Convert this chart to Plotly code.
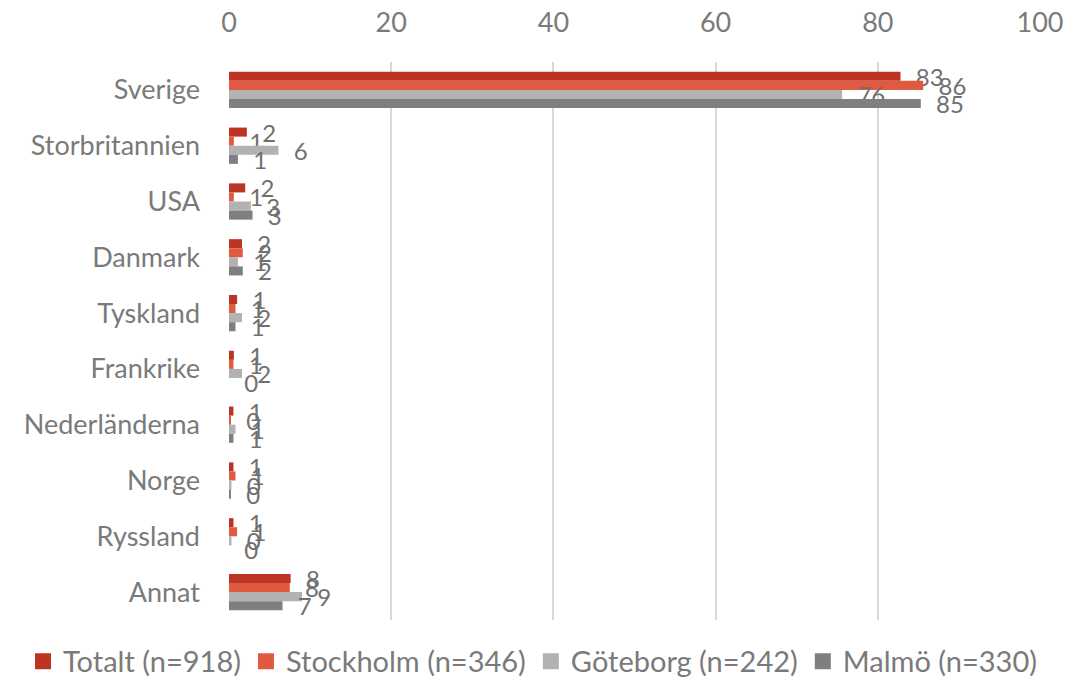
import plotly.graph_objects as go

countries = ['Sverige', 'Storbritannien', 'USA', 'Danmark', 'Tyskland',
             'Frankrike', 'Nederländerna', 'Norge', 'Ryssland', 'Annat']

totalt = [82.8, 2.2, 2.0, 1.6, 1.0, 0.6, 0.55, 0.55, 0.55, 7.6]
stockholm = [85.6, 0.6, 0.6, 1.7, 0.8, 0.55, 0.2, 0.8, 1.0, 7.5]
goteborg = [75.6, 6.1, 2.7, 1.1, 1.6, 1.6, 0.8, 0.3, 0.3, 9.0]
malmo = [85.3, 1.1, 2.9, 1.7, 0.8, 0.0, 0.55, 0.15, 0.0, 6.6]

series = [
    ('Totalt (n=918)', totalt, '#BE3424'),
    ('Stockholm (n=346)', stockholm, '#E05A42'),
    ('Göteborg (n=242)', goteborg, '#B2B2B2'),
    ('Malmö (n=330)', malmo, '#7F7F7F'),
]

FONT = 'Lato'
GREY = '#7A7A7A'

fig = go.Figure()
for name, vals, col in series:
    fig.add_trace(go.Bar(
        y=countries, x=vals, name=name, orientation='h',
        marker=dict(color=col, line=dict(width=0)),
        texttemplate='  %{x:.0f}', textposition='outside',
        constraintext='none', cliponaxis=False,
        textfont=dict(size=24, color='#707070', family=FONT),
        showlegend=False,
    ))

# legend entries with bigger square swatches
for name, vals, col in series:
    fig.add_trace(go.Scatter(
        x=[None], y=[None], mode='markers', name=name,
        marker=dict(symbol='square', size=16, color=col),
    ))

# the page body has an 8px margin, so the margins are shifted to compensate
fig.update_layout(
    width=1092, height=682,
    barmode='group', bargap=0.35, bargroupgap=0,
    plot_bgcolor='white', paper_bgcolor='white',
    margin=dict(l=221, r=60, t=54, b=70, autoexpand=False),
    font=dict(family=FONT, size=22, color=GREY),
    xaxis=dict(
        side='top', range=[0, 100], dtick=20,
        showgrid=True, gridcolor='#D9D9D9', gridwidth=2,
        zeroline=False, showline=False, ticks='',
        tickfont=dict(size=27, color=GREY), ticklabelstandoff=24,
    ),
    yaxis=dict(
        autorange='reversed', showgrid=False, ticks='',
        showline=False, ticklabelstandoff=28,
        tickfont=dict(size=27, color=GREY),
    ),
    legend=dict(
        orientation='h', x=-0.254, xanchor='left',
        y=-0.074, yanchor='middle',
        font=dict(size=29, color=GREY), itemsizing='trace',
        traceorder='normal',
    ),
    showlegend=True,
)

fig.write_html("out.html")
